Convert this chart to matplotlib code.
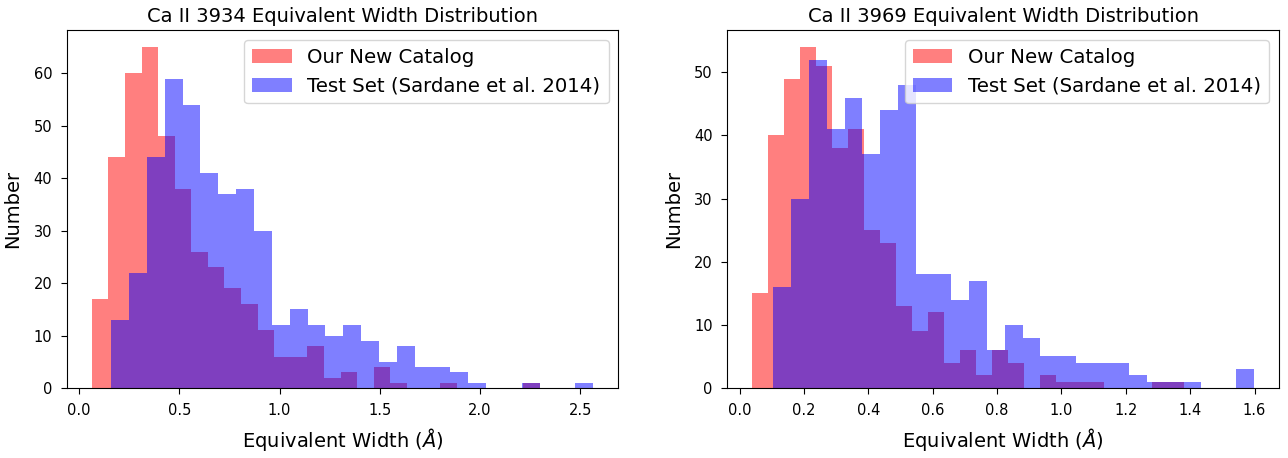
import numpy as np
import matplotlib.pyplot as plt

# Ca II 3934: counts per bin, and the range the 27 bins cover
ca3934_ours = [17, 44, 60, 65, 48, 38, 26, 23, 19, 16, 11, 6, 6, 8, 2, 3,
               0, 4, 1, 0, 0, 1, 0, 0, 0, 0, 1]
ca3934_ours_range = (0.063, 2.298)
ca3934_test = [13, 22, 44, 59, 54, 41, 37, 38, 30, 12, 15, 12, 10, 12, 9, 5,
               8, 4, 4, 3, 1, 0, 0, 1, 0, 0, 1]
ca3934_test_range = (0.160, 2.566)

# Ca II 3969
ca3969_ours = [15, 40, 49, 54, 51, 38, 41, 25, 23, 13, 9, 12, 4, 6, 2, 6,
               4, 0, 2, 1, 1, 1, 0, 0, 0, 1, 1]
ca3969_ours_range = (0.040, 1.381)
ca3969_test = [16, 30, 52, 41, 46, 37, 44, 48, 18, 18, 14, 17, 6, 10, 8, 5,
               5, 4, 4, 4, 2, 1, 1, 1, 0, 0, 3]
ca3969_test_range = (0.105, 1.598)

panels = [
    ("Ca II 3934 Equivalent Width Distribution",
     ca3934_ours, ca3934_ours_range, ca3934_test, ca3934_test_range),
    ("Ca II 3969 Equivalent Width Distribution",
     ca3969_ours, ca3969_ours_range, ca3969_test, ca3969_test_range),
]

fig = plt.figure(figsize=(12.88, 4.58), dpi=100)
axes = [fig.add_axes([0.0518, 0.1528, 0.4283, 0.7817]),
        fig.add_axes([0.5647, 0.1528, 0.4283, 0.7817])]

for ax, (title, ours, ours_rng, test, test_rng) in zip(axes, panels):
    edges_o = np.linspace(ours_rng[0], ours_rng[1], len(ours) + 1)
    edges_t = np.linspace(test_rng[0], test_rng[1], len(test) + 1)
    ax.hist(edges_o[:-1], bins=edges_o, weights=ours, color="red", alpha=0.5,
            label="Our New Catalog")
    ax.hist(edges_t[:-1], bins=edges_t, weights=test, color="blue", alpha=0.5,
            label="Test Set (Sardane et al. 2014)")
    ax.set_title(title, fontsize=14)
    ax.set_xlabel(r"Equivalent Width ($\AA$)", fontsize=14, labelpad=6)
    ax.set_ylabel("Number", fontsize=14, labelpad=8)
    ax.tick_params(labelsize=10.5, length=4.5, pad=6)
    ax.legend(loc="upper right", fontsize=14.2)

fig.savefig("out.png", dpi=100)
